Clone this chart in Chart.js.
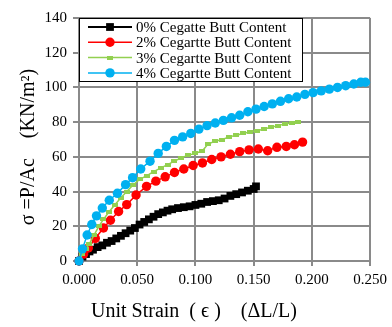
<!DOCTYPE html>
<html>
<head>
<meta charset="utf-8">
<script src="https://cdn.jsdelivr.net/npm/chart.js@4/dist/chart.umd.min.js"></script>
<style>
  html, body { margin: 0; padding: 0; background: #fff; }
  #wrap { width: 392px; height: 327px; position: relative; }
</style>
</head>
<body>
<div id="wrap"><canvas id="stress-strain"></canvas></div>
<script>
// series labels
const seriesLabels = [
    '0% Cegatte Butt Content',
    '2% Cegartte Butt Content',
    '3% Cegartte Butt Content',
    '4% Cegartte Butt Content'
];

// 0% - unit strain / stress (KN/m2)
const strain0 = [0, 0.003, 0.006, 0.009, 0.012, 0.016, 0.020, 0.024, 0.028, 0.032, 0.036, 0.040, 0.044, 0.048, 0.052, 0.056, 0.060, 0.064, 0.068, 0.072, 0.076, 0.080, 0.085, 0.090, 0.095, 0.100, 0.105, 0.110, 0.115, 0.120, 0.125, 0.130, 0.135, 0.140, 0.145, 0.150, 0.152];
const stress0 = [0, 2.5, 4, 5.5, 6.5, 8, 9, 10.5, 11.5, 13, 14.5, 16, 17.5, 19, 21, 22.5, 24, 25.5, 27, 28, 29, 29.8, 30.5, 31, 31.5, 32.3, 33, 34, 34.5, 35, 36, 37.5, 38.5, 39.5, 40.5, 41.5, 43];

// 2%
const strain2 = [0, 0.004, 0.008, 0.014, 0.021, 0.027, 0.034, 0.041, 0.049, 0.058, 0.066, 0.074, 0.082, 0.090, 0.098, 0.106, 0.114, 0.122, 0.130, 0.138, 0.146, 0.154, 0.162, 0.170, 0.178, 0.185, 0.192];
const stress2 = [0, 4, 7.5, 13, 19, 23.5, 28.5, 32.5, 38, 43, 46, 48.5, 51, 53, 55, 56.5, 58.5, 60, 61.5, 63, 64, 64.5, 63.5, 65.5, 66, 67, 68.5];

// 3%
const strain3 = [0, 0.003, 0.006, 0.009, 0.013, 0.017, 0.021, 0.026, 0.031, 0.036, 0.041, 0.046, 0.052, 0.058, 0.064, 0.070, 0.076, 0.082, 0.088, 0.094, 0.100, 0.106, 0.111, 0.117, 0.123, 0.129, 0.135, 0.141, 0.147, 0.153, 0.159, 0.165, 0.171, 0.177, 0.183, 0.188];
const stress3 = [0, 4, 7, 10, 15, 20, 24, 28.5, 32.5, 36.5, 40, 43.5, 47, 49, 51.5, 53.5, 55.5, 57.5, 59.5, 61, 62, 63.5, 67.5, 69, 70, 71.5, 72.5, 73.5, 74.5, 75, 76, 77, 78, 79, 79.5, 80.2];

// 4%
const strain4 = [0, 0.003, 0.007, 0.011, 0.015, 0.020, 0.026, 0.033, 0.040, 0.046, 0.053, 0.061, 0.068, 0.075, 0.082, 0.089, 0.096, 0.103, 0.110, 0.117, 0.124, 0.131, 0.138, 0.145, 0.152, 0.159, 0.166, 0.173, 0.180, 0.187, 0.194, 0.201, 0.208, 0.215, 0.222, 0.229, 0.236, 0.242, 0.246];
const stress4 = [0, 7, 15, 21, 26, 30.5, 35, 39, 44, 48, 53, 57.5, 62, 66, 69.5, 71.5, 73.5, 76, 78, 79.5, 81, 82.5, 84, 86, 87.5, 89, 90.5, 92, 93.5, 94.5, 96, 97, 98, 99, 100, 101, 102, 103, 103];

const xTitle = 'Unit Strain  ( \u03f5 )    (\u0394L/L)';
const yTitle = '\u03c3 =P/Ac    (KN/m\u00b2)';

const serif = '"Liberation Serif", "Times New Roman", serif';
const gridGray = '#8a8a8a';

function toPoints(xs, ys) {
    return xs.map((x, i) => ({ x: x, y: ys[i] }));
}

// little green dash used as marker for the 3% series
const greenDash = document.createElement('canvas');
greenDash.width = 6;
greenDash.height = 4;
(function () {
    const g = greenDash.getContext('2d');
    g.fillStyle = '#92d050';
    g.fillRect(0, 0, 6, 4);
})();

// legend box drawn inside the plot + axis titles
const decorPlugin = {
    id: 'decor',
    afterDraw(chart) {
        const ctx = chart.ctx;
        const area = chart.chartArea;
        ctx.save();

        // legend
        const bx = area.left + 0.5, by = area.top + 0.5, bw = 223, bh = 63;
        ctx.fillStyle = '#fff';
        ctx.fillRect(bx, by, bw, bh);
        ctx.strokeStyle = '#000';
        ctx.lineWidth = 1;
        ctx.strokeRect(bx, by, bw, bh);
        ctx.font = '15px ' + serif;
        ctx.textBaseline = 'middle';
        ctx.textAlign = 'left';
        chart.data.datasets.forEach((ds, i) => {
            const ry = area.top + 9 + i * 15.3;
            ctx.strokeStyle = ds.borderColor;
            ctx.lineWidth = ds.borderWidth;
            ctx.beginPath();
            ctx.moveTo(area.left + 9, ry);
            ctx.lineTo(area.left + 53, ry);
            ctx.stroke();
            ctx.fillStyle = ds.backgroundColor;
            Chart.helpers.drawPoint(ctx, {
                pointStyle: ds.pointStyle,
                radius: ds.pointRadius,
                borderWidth: 0
            }, area.left + 31, ry);
            ctx.fillStyle = '#000';
            ctx.fillText(ds.label, area.left + 57, ry + 1);
        });

        // axis titles
        ctx.fillStyle = '#000';
        ctx.font = '20px ' + serif;
        ctx.textAlign = 'center';
        ctx.textBaseline = 'middle';
        ctx.fillText(xTitle, 194, 312);
        ctx.translate(29, 147);
        ctx.rotate(-Math.PI / 2);
        ctx.fillText(yTitle, 0, 0);
        ctx.restore();
    }
};

new Chart(document.getElementById('stress-strain'), {
    type: 'scatter',
    data: {
        datasets: [
            {
                label: seriesLabels[0],
                data: toPoints(strain0, stress0),
                showLine: true,
                clip: false,
                borderColor: '#000',
                backgroundColor: '#000',
                borderWidth: 2,
                pointStyle: 'rect',
                pointRadius: 5.5,
                pointBorderWidth: 0,
                order: 3
            },
            {
                label: seriesLabels[1],
                data: toPoints(strain2, stress2),
                showLine: true,
                clip: false,
                borderColor: '#ff0000',
                backgroundColor: '#ff0000',
                borderWidth: 1.5,
                pointStyle: 'circle',
                pointRadius: 4.7,
                pointBorderWidth: 0,
                order: 2
            },
            {
                label: seriesLabels[2],
                data: toPoints(strain3, stress3),
                showLine: true,
                clip: false,
                borderColor: '#92d050',
                backgroundColor: '#92d050',
                borderWidth: 1.5,
                pointStyle: greenDash,
                pointRadius: 3,
                pointBorderWidth: 0,
                order: 1
            },
            {
                label: seriesLabels[3],
                data: toPoints(strain4, stress4),
                showLine: true,
                clip: false,
                borderColor: '#00b0f0',
                backgroundColor: '#00b0f0',
                borderWidth: 1.5,
                pointStyle: 'circle',
                pointRadius: 4.7,
                pointBorderWidth: 0,
                order: 0
            }
        ]
    },
    options: {
        responsive: true,
        maintainAspectRatio: false,
        animation: false,
        layout: { padding: { left: 0, right: 20, top: 18, bottom: 0 } },
        elements: { line: { tension: 0 } },
        plugins: {
            legend: { display: false },
            tooltip: { enabled: false }
        },
        scales: {
            x: {
                type: 'linear',
                min: 0,
                max: 0.25,
                afterFit(scale) { scale.height = 66; },
                border: { color: gridGray, width: 2 },
                grid: { color: gridGray, lineWidth: 2, tickLength: 5, tickColor: gridGray },
                ticks: {
                    stepSize: 0.05,
                    padding: 5,
                    color: '#000',
                    font: { family: serif, size: 15 },
                    maxRotation: 0,
                    callback: v => v.toFixed(3)
                }
            },
            y: {
                type: 'linear',
                min: 0,
                max: 140,
                afterFit(scale) { scale.width = 79; },
                border: { color: gridGray, width: 2 },
                grid: { color: gridGray, lineWidth: 2, tickLength: 6, tickColor: gridGray },
                ticks: {
                    stepSize: 20,
                    padding: 6,
                    color: '#000',
                    font: { family: serif, size: 15 }
                }
            }
        }
    },
    plugins: [decorPlugin]
});
</script>
</body>
</html>
